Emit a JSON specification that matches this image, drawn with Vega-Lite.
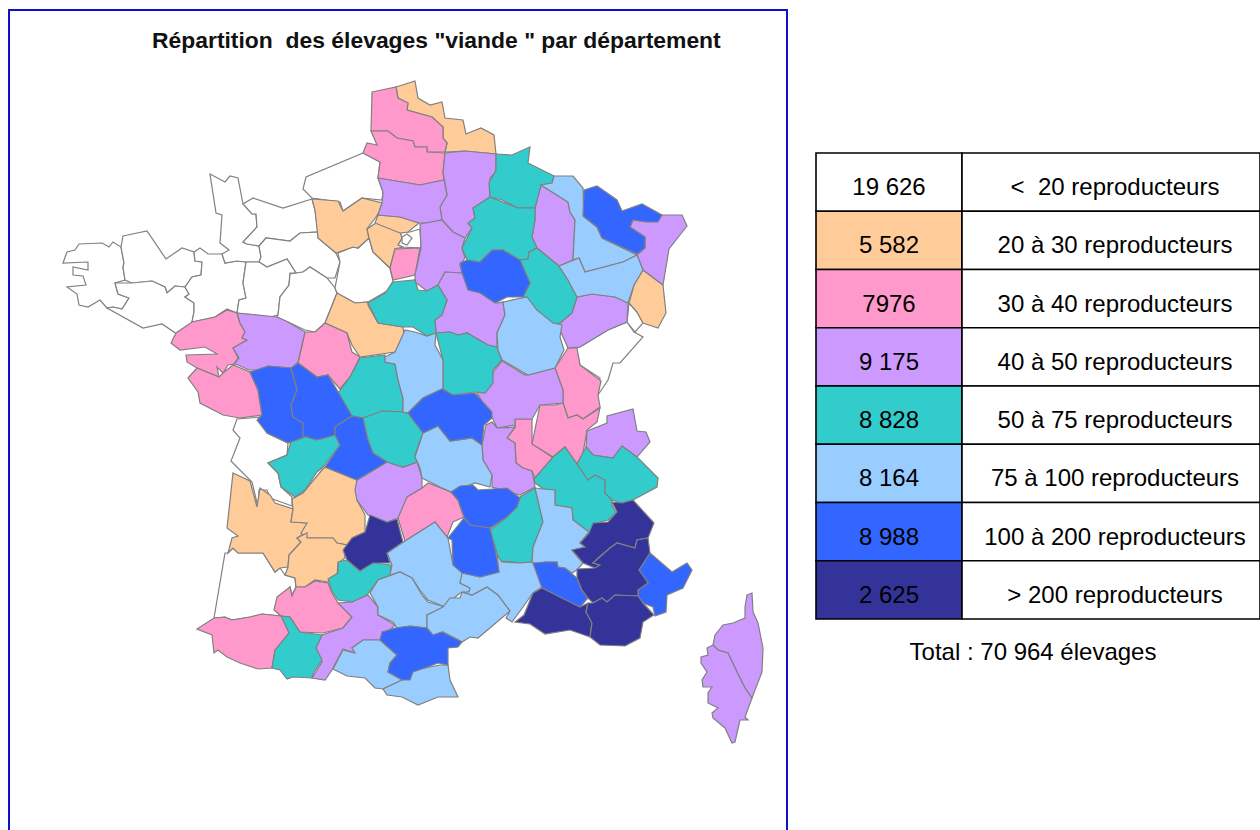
{"$schema":"https://vega.github.io/schema/vega-lite/v6.json",
"padding":{"left":8,"top":9,"right":0,"bottom":0},
"background":"white",
"bounds":"flush",
"config":{"font":"Liberation Sans"},
"spacing":29,
"hconcat":[
{"width":778,"height":830,
"title":{"text":"Répartition\u00a0 des élevages \"viande \" par département","orient":"top","anchor":"start","dx":143,"dy":47,"font":"Liberation Sans","fontSize":22.9,"fontWeight":"bold","color":"#111111"},
"view":{"stroke":"#1010c8","strokeWidth":2},
"projection":{"type":"identity","scale":1,"translate":[-9,-10]},
"data":{"values":[
{"dep":"Finistère","cat":"<20","type":"Feature","geometry":{"type":"Polygon","coordinates":[[[63,263],[67,252],[75,250],[79,244],[102,243],[109,247],[113,242],[121,247],[124,263],[123,267],[125,280],[115,283],[118,294],[129,298],[122,309],[113,307],[107,308],[100,300],[88,307],[79,305],[77,294],[67,287],[86,285],[83,276],[73,275],[73,267],[88,270],[88,262],[63,263]]]}},
{"dep":"Côtes-d'Armor","cat":"<20","type":"Feature","geometry":{"type":"Polygon","coordinates":[[[123,236],[147,231],[166,259],[182,248],[194,252],[195,261],[202,262],[201,275],[192,277],[185,287],[175,286],[167,293],[165,287],[152,281],[132,283],[125,280],[123,267],[124,263],[121,247],[123,236]]]}},
{"dep":"Morbihan","cat":"<20","type":"Feature","geometry":{"type":"Polygon","coordinates":[[[115,283],[132,283],[152,281],[165,287],[167,293],[175,286],[185,287],[189,294],[185,297],[194,303],[194,312],[192,322],[192,330],[177,334],[162,324],[143,328],[107,308],[113,307],[122,309],[129,298],[118,294],[115,283]]]}},
{"dep":"Ille-et-Vilaine","cat":"<20","type":"Feature","geometry":{"type":"Polygon","coordinates":[[[194,252],[200,248],[208,254],[222,254],[225,263],[237,261],[246,262],[243,283],[246,298],[239,300],[237,313],[227,309],[215,317],[192,322],[194,312],[194,303],[185,297],[189,294],[185,287],[192,277],[201,275],[202,262],[195,261],[194,252]]]}},
{"dep":"Manche","cat":"<20","type":"Feature","geometry":{"type":"Polygon","coordinates":[[[210,174],[225,182],[230,176],[238,178],[243,204],[252,214],[256,214],[257,227],[243,242],[247,244],[259,246],[261,257],[259,262],[246,262],[237,261],[225,263],[222,254],[229,250],[220,243],[222,215],[216,213],[210,174]]]}},
{"dep":"Calvados","cat":"<20","type":"Feature","geometry":{"type":"Polygon","coordinates":[[[243,204],[253,198],[283,208],[312,199],[315,210],[318,232],[300,233],[290,241],[266,238],[259,246],[247,244],[243,242],[257,227],[256,214],[252,214],[243,204]]]}},
{"dep":"Orne","cat":"<20","type":"Feature","geometry":{"type":"Polygon","coordinates":[[[259,246],[266,238],[290,241],[300,233],[318,232],[318,238],[336,253],[340,262],[335,278],[327,278],[310,267],[303,272],[296,273],[287,259],[267,267],[259,262],[261,257],[259,246]]]}},
{"dep":"Mayenne","cat":"<20","type":"Feature","geometry":{"type":"Polygon","coordinates":[[[246,262],[259,262],[267,267],[287,259],[296,273],[290,273],[289,285],[280,297],[278,315],[270,317],[237,313],[239,300],[246,298],[243,283],[246,262]]]}},
{"dep":"Sarthe","cat":"<20","type":"Feature","geometry":{"type":"Polygon","coordinates":[[[290,274],[303,272],[310,267],[327,278],[335,288],[337,293],[325,323],[315,332],[305,330],[288,322],[277,317],[278,315],[280,297],[289,285],[290,274]]]}},
{"dep":"Eure-et-Loir","cat":"<20","type":"Feature","geometry":{"type":"Polygon","coordinates":[[[338,253],[353,247],[358,248],[369,238],[373,252],[390,268],[393,281],[387,291],[368,302],[355,303],[337,293],[335,288],[340,262],[338,253]]]}},
{"dep":"Seine-Maritime","cat":"<20","type":"Feature","geometry":{"type":"Polygon","coordinates":[[[363,153],[306,177],[303,189],[312,198],[340,202],[343,211],[362,198],[382,200],[383,192],[378,178],[380,162],[363,153]]]}},
{"dep":"Paris et petite couronne","cat":"<20","type":"Feature","geometry":{"type":"Polygon","coordinates":[[[400,233],[410,232],[420,229],[421,248],[403,247],[398,245],[402,238],[400,233]]]}},
{"dep":"Hauts-de-Seine","cat":"<20","type":"Feature","geometry":{"type":"Polygon","coordinates":[[[402,237],[407,234],[412,238],[407,245],[402,243],[402,237]]]}},
{"dep":"Charente-Maritime","cat":"<20","type":"Feature","geometry":{"type":"Polygon","coordinates":[[[237,419],[262,417],[267,433],[288,443],[287,455],[268,463],[278,473],[281,487],[292,497],[292,506],[270,498],[267,490],[259,490],[258,507],[252,482],[231,461],[240,438],[233,430],[237,419]]]}},
{"dep":"Landes","cat":"<20","type":"Feature","geometry":{"type":"Polygon","coordinates":[[[225,553],[228,553],[233,548],[238,553],[263,553],[275,572],[280,568],[285,575],[295,578],[296,587],[292,595],[290,587],[277,602],[275,610],[281,616],[262,614],[250,617],[232,620],[225,617],[214,618],[225,553]]]}},
{"dep":"Doubs","cat":"<20","type":"Feature","geometry":{"type":"Polygon","coordinates":[[[568,348],[580,347],[608,330],[627,322],[634,332],[643,337],[620,363],[613,363],[608,380],[598,395],[600,378],[580,365],[578,355],[568,348]]]}},
{"dep":"Territoire de Belfort","cat":"<20","type":"Feature","geometry":{"type":"Polygon","coordinates":[[[629,303],[637,312],[643,323],[635,332],[627,322],[629,303]]]}},
{"dep":"Nord","cat":"20-30","type":"Feature","geometry":{"type":"Polygon","coordinates":[[[396,87],[415,81],[418,98],[430,105],[442,102],[445,118],[463,120],[466,134],[481,128],[494,135],[496,154],[465,151],[445,152],[447,143],[443,138],[443,127],[432,117],[407,110],[408,103],[398,98],[396,87]]]}},
{"dep":"Eure","cat":"20-30","type":"Feature","geometry":{"type":"Polygon","coordinates":[[[312,199],[338,201],[343,211],[362,198],[382,203],[379,212],[376,217],[367,229],[369,238],[358,248],[353,247],[336,253],[318,238],[315,210],[312,199]]]}},
{"dep":"Yvelines","cat":"20-30","type":"Feature","geometry":{"type":"Polygon","coordinates":[[[367,229],[376,223],[400,232],[402,238],[398,245],[403,247],[395,249],[390,268],[373,252],[369,238],[367,229]]]}},
{"dep":"Val-d'Oise","cat":"20-30","type":"Feature","geometry":{"type":"Polygon","coordinates":[[[375,223],[378,215],[400,217],[419,223],[408,232],[400,233],[375,223]]]}},
{"dep":"Loir-et-Cher","cat":"20-30","type":"Feature","geometry":{"type":"Polygon","coordinates":[[[337,293],[355,303],[368,302],[368,305],[378,323],[403,327],[405,342],[395,352],[360,357],[352,345],[347,333],[325,323],[337,293]]]}},
{"dep":"Haut-Rhin","cat":"20-30","type":"Feature","geometry":{"type":"Polygon","coordinates":[[[643,270],[663,285],[666,313],[658,328],[643,323],[637,312],[629,303],[634,285],[643,270]]]}},
{"dep":"Gironde","cat":"20-30","type":"Feature","geometry":{"type":"Polygon","coordinates":[[[233,473],[250,481],[257,507],[260,488],[270,495],[275,503],[293,509],[291,522],[307,523],[305,533],[297,538],[301,542],[289,555],[288,567],[280,568],[275,572],[263,553],[238,553],[233,548],[228,553],[232,538],[238,536],[227,528],[233,473]]]}},
{"dep":"Dordogne","cat":"20-30","type":"Feature","geometry":{"type":"Polygon","coordinates":[[[292,499],[303,493],[312,482],[322,470],[325,467],[357,480],[357,500],[365,515],[365,532],[352,538],[347,545],[337,543],[333,538],[307,538],[301,533],[307,523],[291,522],[293,509],[292,499]]]}},
{"dep":"Lot-et-Garonne","cat":"20-30","type":"Feature","geometry":{"type":"Polygon","coordinates":[[[307,533],[307,538],[333,538],[337,543],[347,545],[344,550],[345,558],[338,563],[337,577],[328,582],[315,580],[305,587],[296,587],[295,578],[285,575],[288,567],[289,555],[301,542],[297,538],[307,533]]]}},
{"dep":"Pas-de-Calais","cat":"30-40","type":"Feature","geometry":{"type":"Polygon","coordinates":[[[372,92],[396,87],[398,98],[408,103],[407,110],[432,117],[443,127],[443,138],[447,143],[445,152],[427,152],[427,147],[415,147],[413,141],[397,138],[388,131],[371,131],[372,92]]]}},
{"dep":"Somme","cat":"30-40","type":"Feature","geometry":{"type":"Polygon","coordinates":[[[363,153],[367,143],[377,145],[371,131],[388,131],[397,138],[413,141],[415,147],[427,147],[427,152],[445,153],[443,172],[444,180],[420,185],[378,178],[380,162],[363,153]]]}},
{"dep":"Essonne","cat":"30-40","type":"Feature","geometry":{"type":"Polygon","coordinates":[[[395,249],[420,248],[415,275],[393,280],[390,268],[395,249]]]}},
{"dep":"Loire-Atlantique","cat":"30-40","type":"Feature","geometry":{"type":"Polygon","coordinates":[[[171,343],[176,333],[192,322],[215,317],[227,310],[237,313],[240,323],[245,332],[242,338],[247,340],[233,348],[238,358],[234,364],[228,365],[223,373],[217,367],[219,377],[197,368],[187,362],[186,355],[217,354],[205,347],[180,350],[171,343]]]}},
{"dep":"Vendée","cat":"30-40","type":"Feature","geometry":{"type":"Polygon","coordinates":[[[188,378],[197,368],[219,377],[223,373],[233,365],[250,372],[258,390],[262,415],[240,418],[223,415],[200,403],[198,392],[188,378]]]}},
{"dep":"Indre-et-Loire","cat":"30-40","type":"Feature","geometry":{"type":"Polygon","coordinates":[[[305,332],[315,332],[325,323],[347,333],[352,352],[360,357],[350,377],[340,389],[328,375],[317,377],[298,363],[305,332]]]}},
{"dep":"Cantal","cat":"30-40","type":"Feature","geometry":{"type":"Polygon","coordinates":[[[398,518],[405,498],[422,488],[428,483],[451,492],[458,500],[464,517],[453,522],[447,537],[435,522],[405,541],[398,518]]]}},
{"dep":"Gers","cat":"30-40","type":"Feature","geometry":{"type":"Polygon","coordinates":[[[277,597],[290,587],[292,596],[296,587],[305,587],[315,581],[328,583],[332,593],[338,603],[352,617],[343,628],[323,633],[300,632],[290,617],[281,616],[274,610],[277,597]]]}},
{"dep":"Pyrénées-Atlantiques","cat":"30-40","type":"Feature","geometry":{"type":"Polygon","coordinates":[[[197,629],[214,618],[225,617],[232,620],[250,617],[262,614],[281,616],[290,633],[289,637],[275,650],[272,668],[258,669],[240,663],[227,657],[218,650],[214,653],[212,635],[197,629]]]}},
{"dep":"Jura","cat":"30-40","type":"Feature","geometry":{"type":"Polygon","coordinates":[[[568,348],[577,348],[580,365],[601,381],[598,395],[600,407],[583,419],[577,415],[568,418],[563,403],[563,390],[555,368],[568,348]]]}},
{"dep":"Ain","cat":"30-40","type":"Feature","geometry":{"type":"Polygon","coordinates":[[[540,405],[555,405],[563,403],[568,418],[577,415],[583,419],[597,410],[600,408],[597,422],[587,430],[583,453],[577,464],[565,447],[553,457],[532,444],[540,405]]]}},
{"dep":"Rhône","cat":"30-40","type":"Feature","geometry":{"type":"Polygon","coordinates":[[[515,419],[532,419],[532,444],[552,457],[553,465],[535,478],[532,471],[523,468],[516,463],[515,443],[507,438],[515,427],[515,419]]]}},
{"dep":"Aisne","cat":"40-50","type":"Feature","geometry":{"type":"Polygon","coordinates":[[[445,153],[465,151],[496,154],[496,172],[490,178],[490,197],[473,208],[475,218],[468,223],[472,228],[465,238],[453,232],[442,220],[440,207],[447,195],[443,172],[445,153]]]}},
{"dep":"Oise","cat":"40-50","type":"Feature","geometry":{"type":"Polygon","coordinates":[[[378,178],[420,185],[444,180],[447,195],[440,207],[442,220],[430,223],[419,223],[400,217],[378,215],[382,203],[383,192],[378,178]]]}},
{"dep":"Seine-et-Marne","cat":"40-50","type":"Feature","geometry":{"type":"Polygon","coordinates":[[[420,224],[442,220],[453,232],[465,238],[462,248],[465,258],[460,265],[462,273],[445,272],[438,285],[427,291],[415,282],[415,275],[421,248],[420,224]]]}},
{"dep":"Meuse","cat":"40-50","type":"Feature","geometry":{"type":"Polygon","coordinates":[[[541,185],[568,202],[570,212],[575,220],[573,260],[559,266],[537,248],[532,237],[535,220],[535,208],[541,185]]]}},
{"dep":"Bas-Rhin","cat":"40-50","type":"Feature","geometry":{"type":"Polygon","coordinates":[[[633,220],[647,222],[662,215],[682,215],[687,226],[669,249],[663,285],[643,270],[637,255],[645,248],[645,237],[630,227],[633,220]]]}},
{"dep":"Haute-Saône","cat":"40-50","type":"Feature","geometry":{"type":"Polygon","coordinates":[[[577,297],[592,294],[615,297],[628,303],[627,322],[608,330],[580,347],[568,348],[560,330],[560,323],[572,313],[577,297]]]}},
{"dep":"Yonne","cat":"40-50","type":"Feature","geometry":{"type":"Polygon","coordinates":[[[438,285],[445,272],[462,273],[472,288],[480,290],[497,303],[503,302],[505,315],[497,333],[497,347],[488,345],[467,333],[458,335],[450,332],[436,333],[435,320],[442,315],[447,300],[438,285]]]}},
{"dep":"Maine-et-Loire","cat":"40-50","type":"Feature","geometry":{"type":"Polygon","coordinates":[[[237,313],[277,317],[288,322],[305,332],[298,362],[292,368],[268,366],[258,370],[249,370],[238,365],[234,364],[239,358],[233,348],[247,340],[242,338],[245,332],[240,323],[237,313]]]}},
{"dep":"Saône-et-Loire","cat":"40-50","type":"Feature","geometry":{"type":"Polygon","coordinates":[[[477,393],[502,361],[525,375],[555,368],[563,390],[563,403],[540,405],[532,419],[515,419],[515,425],[497,428],[492,417],[477,393]]]}},
{"dep":"Loire","cat":"40-50","type":"Feature","geometry":{"type":"Polygon","coordinates":[[[492,422],[497,428],[515,427],[507,438],[515,443],[516,463],[523,468],[532,471],[535,487],[520,495],[492,487],[492,475],[483,460],[482,445],[486,425],[492,422]]]}},
{"dep":"Corrèze","cat":"40-50","type":"Feature","geometry":{"type":"Polygon","coordinates":[[[357,480],[387,462],[403,467],[417,462],[422,478],[422,488],[407,497],[398,518],[387,522],[368,515],[357,500],[355,490],[357,480]]]}},
{"dep":"Haute-Savoie","cat":"40-50","type":"Feature","geometry":{"type":"Polygon","coordinates":[[[587,431],[607,423],[607,416],[633,409],[637,431],[646,432],[650,442],[637,457],[622,446],[613,458],[593,455],[586,447],[587,431]]]}},
{"dep":"Haute-Garonne","cat":"40-50","type":"Feature","geometry":{"type":"Polygon","coordinates":[[[322,635],[343,628],[352,617],[338,603],[352,602],[368,595],[378,607],[378,615],[395,625],[380,640],[363,640],[352,648],[355,653],[343,649],[332,670],[325,680],[312,678],[322,662],[316,648],[322,635]]]}},
{"dep":"Haute-Corse","cat":"40-50","type":"Feature","geometry":{"type":"Polygon","coordinates":[[[747,595],[752,593],[753,612],[758,623],[763,648],[762,672],[752,698],[745,688],[737,672],[728,653],[718,650],[713,645],[715,635],[723,625],[733,623],[740,620],[745,618],[745,607],[747,595]]]}},
{"dep":"Corse-du-Sud","cat":"40-50","type":"Feature","geometry":{"type":"Polygon","coordinates":[[[707,648],[713,645],[718,650],[728,653],[737,672],[745,688],[752,698],[745,717],[748,720],[740,720],[735,742],[732,743],[725,728],[713,718],[712,713],[718,708],[708,703],[708,693],[712,687],[703,687],[702,680],[707,672],[701,663],[701,657],[708,655],[707,648]]]}},
{"dep":"Ardennes","cat":"50-75","type":"Feature","geometry":{"type":"Polygon","coordinates":[[[496,154],[512,155],[530,147],[528,163],[554,176],[552,183],[541,185],[535,208],[518,208],[502,200],[490,197],[489,183],[496,170],[496,154]]]}},
{"dep":"Marne","cat":"50-75","type":"Feature","geometry":{"type":"Polygon","coordinates":[[[490,197],[518,208],[535,208],[535,220],[532,237],[537,248],[529,252],[528,259],[520,260],[503,250],[492,250],[480,262],[467,260],[462,248],[472,228],[468,223],[475,218],[473,208],[490,197]]]}},
{"dep":"Haute-Marne","cat":"50-75","type":"Feature","geometry":{"type":"Polygon","coordinates":[[[529,252],[537,248],[559,266],[568,280],[577,297],[572,313],[560,323],[553,325],[540,317],[535,308],[523,297],[530,283],[520,260],[528,259],[529,252]]]}},
{"dep":"Loiret","cat":"50-75","type":"Feature","geometry":{"type":"Polygon","coordinates":[[[368,303],[385,293],[393,282],[415,280],[418,290],[427,291],[438,285],[447,300],[442,315],[435,320],[436,333],[427,336],[413,327],[403,327],[378,323],[368,303]]]}},
{"dep":"Nièvre","cat":"50-75","type":"Feature","geometry":{"type":"Polygon","coordinates":[[[436,333],[450,332],[458,335],[467,333],[488,345],[497,347],[502,360],[493,370],[493,383],[485,393],[475,392],[453,395],[443,389],[443,360],[436,333]]]}},
{"dep":"Indre","cat":"50-75","type":"Feature","geometry":{"type":"Polygon","coordinates":[[[360,358],[385,355],[385,362],[395,364],[398,380],[403,398],[403,412],[382,411],[363,418],[352,416],[338,393],[350,377],[360,358]]]}},
{"dep":"Creuse","cat":"50-75","type":"Feature","geometry":{"type":"Polygon","coordinates":[[[363,418],[382,411],[403,412],[408,413],[423,433],[415,455],[417,462],[403,467],[387,462],[373,453],[368,440],[363,418]]]}},
{"dep":"Charente","cat":"50-75","type":"Feature","geometry":{"type":"Polygon","coordinates":[[[292,438],[303,436],[317,440],[335,435],[340,445],[323,467],[317,472],[305,490],[295,497],[281,487],[278,473],[268,463],[287,455],[292,438]]]}},
{"dep":"Tarn-et-Garonne","cat":"50-75","type":"Feature","geometry":{"type":"Polygon","coordinates":[[[338,562],[347,560],[360,571],[373,563],[391,565],[391,575],[378,580],[367,595],[352,602],[338,600],[332,591],[328,579],[338,573],[338,562]]]}},
{"dep":"Hautes-Pyrénées","cat":"50-75","type":"Feature","geometry":{"type":"Polygon","coordinates":[[[281,616],[290,617],[300,632],[322,635],[316,648],[322,660],[314,672],[312,678],[293,677],[287,679],[280,670],[272,668],[275,650],[289,633],[281,616]]]}},
{"dep":"Ardèche","cat":"50-75","type":"Feature","geometry":{"type":"Polygon","coordinates":[[[535,488],[543,522],[533,547],[532,562],[522,563],[500,561],[497,553],[490,530],[507,517],[517,507],[520,497],[535,488]]]}},
{"dep":"Isère","cat":"50-75","type":"Feature","geometry":{"type":"Polygon","coordinates":[[[565,447],[577,464],[588,480],[595,475],[605,480],[605,493],[612,500],[612,505],[616,513],[608,520],[597,523],[589,532],[573,520],[572,508],[555,505],[555,490],[543,489],[535,483],[534,479],[553,457],[565,447]]]}},
{"dep":"Savoie","cat":"50-75","type":"Feature","geometry":{"type":"Polygon","coordinates":[[[586,447],[593,455],[613,458],[622,446],[637,457],[658,478],[657,487],[633,500],[622,503],[612,500],[605,493],[605,480],[595,475],[588,480],[577,464],[586,447]]]}},
{"dep":"Meurthe-et-Moselle","cat":"75-100","type":"Feature","geometry":{"type":"Polygon","coordinates":[[[554,176],[573,176],[583,188],[584,217],[597,227],[602,238],[637,255],[623,262],[585,272],[579,258],[573,260],[575,220],[570,212],[568,202],[541,185],[552,183],[554,176]]]}},
{"dep":"Vosges","cat":"75-100","type":"Feature","geometry":{"type":"Polygon","coordinates":[[[559,266],[579,258],[585,272],[623,262],[637,255],[643,270],[634,285],[628,303],[615,297],[592,294],[577,297],[568,280],[559,266]]]}},
{"dep":"Côte-d'Or","cat":"75-100","type":"Feature","geometry":{"type":"Polygon","coordinates":[[[503,302],[527,297],[537,310],[553,323],[562,325],[560,337],[564,350],[555,368],[528,375],[502,360],[498,350],[497,333],[505,315],[503,302]]]}},
{"dep":"Cher","cat":"75-100","type":"Feature","geometry":{"type":"Polygon","coordinates":[[[385,357],[395,352],[405,330],[415,332],[427,336],[436,333],[435,345],[443,360],[443,389],[423,398],[408,413],[403,412],[403,398],[398,380],[395,364],[385,362],[385,357]]]}},
{"dep":"Puy-de-Dôme","cat":"75-100","type":"Feature","geometry":{"type":"Polygon","coordinates":[[[415,457],[423,433],[438,426],[450,441],[472,438],[482,445],[483,460],[492,475],[490,487],[475,483],[451,492],[440,487],[422,478],[420,468],[415,457]]]}},
{"dep":"Aveyron","cat":"75-100","type":"Feature","geometry":{"type":"Polygon","coordinates":[[[387,553],[405,541],[435,522],[448,538],[453,565],[464,573],[460,583],[470,588],[469,592],[460,593],[452,600],[445,607],[428,600],[420,590],[412,578],[400,572],[390,575],[392,565],[387,553]]]}},
{"dep":"Tarn","cat":"75-100","type":"Feature","geometry":{"type":"Polygon","coordinates":[[[370,593],[378,580],[400,572],[412,578],[422,595],[428,602],[445,607],[427,615],[427,628],[410,626],[397,628],[393,622],[378,615],[378,607],[370,593]]]}},
{"dep":"Hérault","cat":"75-100","type":"Feature","geometry":{"type":"Polygon","coordinates":[[[427,615],[443,607],[450,598],[460,598],[462,592],[472,595],[487,587],[498,595],[510,611],[478,638],[470,637],[462,642],[443,632],[433,636],[427,628],[427,615]]]}},
{"dep":"Gard","cat":"75-100","type":"Feature","geometry":{"type":"Polygon","coordinates":[[[462,573],[480,577],[499,572],[497,555],[502,562],[520,563],[533,562],[542,587],[533,593],[523,607],[512,622],[506,618],[510,611],[498,595],[487,587],[472,595],[462,592],[469,592],[470,588],[460,583],[462,573]]]}},
{"dep":"Drôme","cat":"75-100","type":"Feature","geometry":{"type":"Polygon","coordinates":[[[535,488],[543,489],[555,490],[555,505],[572,508],[573,520],[589,532],[580,543],[585,547],[572,550],[583,563],[577,570],[572,573],[565,568],[558,567],[557,562],[545,562],[539,567],[532,562],[533,547],[543,522],[535,488]]]}},
{"dep":"Ariège","cat":"75-100","type":"Feature","geometry":{"type":"Polygon","coordinates":[[[333,669],[343,650],[355,653],[352,648],[363,640],[380,640],[397,655],[390,663],[388,672],[402,680],[383,689],[375,688],[365,678],[347,676],[333,669]]]}},
{"dep":"Pyrénées-Orientales","cat":"75-100","type":"Feature","geometry":{"type":"Polygon","coordinates":[[[383,689],[402,680],[413,670],[425,668],[440,665],[448,665],[450,680],[458,697],[438,697],[418,705],[402,697],[387,695],[383,689]]]}},
{"dep":"Moselle","cat":"100-200","type":"Feature","geometry":{"type":"Polygon","coordinates":[[[584,190],[597,186],[617,200],[622,211],[642,204],[662,215],[658,222],[647,222],[633,220],[630,227],[645,237],[645,248],[637,254],[602,238],[597,227],[583,216],[584,190]]]}},
{"dep":"Aube","cat":"100-200","type":"Feature","geometry":{"type":"Polygon","coordinates":[[[460,263],[467,260],[480,262],[492,250],[503,250],[520,260],[530,283],[523,297],[507,297],[495,303],[480,293],[468,290],[462,273],[460,263]]]}},
{"dep":"Deux-Sèvres","cat":"100-200","type":"Feature","geometry":{"type":"Polygon","coordinates":[[[250,372],[268,366],[291,368],[297,390],[291,405],[293,417],[303,423],[305,437],[288,443],[267,433],[257,420],[262,415],[258,390],[250,372]]]}},
{"dep":"Vienne","cat":"100-200","type":"Feature","geometry":{"type":"Polygon","coordinates":[[[291,368],[298,363],[317,377],[328,375],[340,395],[352,416],[335,427],[335,435],[317,440],[303,436],[303,423],[293,417],[291,405],[297,390],[291,368]]]}},
{"dep":"Haute-Vienne","cat":"100-200","type":"Feature","geometry":{"type":"Polygon","coordinates":[[[335,427],[352,416],[363,418],[368,440],[373,453],[387,462],[357,480],[325,467],[340,445],[335,435],[335,427]]]}},
{"dep":"Allier","cat":"100-200","type":"Feature","geometry":{"type":"Polygon","coordinates":[[[408,413],[423,398],[442,389],[453,395],[475,393],[492,412],[492,418],[484,425],[482,445],[472,438],[450,441],[438,426],[423,433],[408,413]]]}},
{"dep":"Haute-Loire","cat":"100-200","type":"Feature","geometry":{"type":"Polygon","coordinates":[[[451,492],[460,486],[473,485],[478,490],[507,488],[520,498],[517,507],[507,517],[490,528],[470,525],[464,517],[458,500],[451,492]]]}},
{"dep":"Lozère","cat":"100-200","type":"Feature","geometry":{"type":"Polygon","coordinates":[[[464,518],[470,525],[490,528],[496,553],[499,572],[480,577],[462,573],[453,565],[452,540],[448,538],[464,518]]]}},
{"dep":"Aude","cat":"100-200","type":"Feature","geometry":{"type":"Polygon","coordinates":[[[380,640],[382,632],[395,628],[410,626],[427,628],[433,635],[442,632],[462,642],[458,647],[448,648],[448,665],[438,663],[425,668],[413,672],[410,680],[402,680],[388,672],[390,663],[397,655],[380,640]]]}},
{"dep":"Vaucluse","cat":"100-200","type":"Feature","geometry":{"type":"Polygon","coordinates":[[[533,563],[545,562],[557,562],[558,567],[565,568],[577,578],[582,590],[588,598],[580,607],[567,602],[542,588],[533,563]]]}},
{"dep":"Alpes-Maritimes","cat":"100-200","type":"Feature","geometry":{"type":"Polygon","coordinates":[[[650,553],[672,572],[687,563],[692,570],[683,588],[667,595],[666,612],[655,616],[653,607],[643,603],[638,596],[638,590],[648,583],[639,570],[650,553]]]}},
{"dep":"Lot","cat":">200","type":"Feature","geometry":{"type":"Polygon","coordinates":[[[343,550],[352,538],[365,532],[370,515],[387,522],[397,519],[403,542],[387,553],[390,563],[373,563],[360,571],[347,560],[343,550]]]}},
{"dep":"Hautes-Alpes","cat":">200","type":"Feature","geometry":{"type":"Polygon","coordinates":[[[612,502],[622,503],[633,500],[654,523],[648,538],[637,540],[635,548],[617,543],[610,548],[598,558],[593,563],[600,565],[595,568],[583,563],[572,550],[585,547],[580,543],[589,533],[593,523],[608,522],[617,512],[612,502]]]}},
{"dep":"Alpes-de-Haute-Provence","cat":">200","type":"Feature","geometry":{"type":"Polygon","coordinates":[[[648,538],[650,553],[639,570],[648,583],[638,590],[638,596],[615,595],[607,602],[602,598],[593,603],[588,598],[582,590],[577,578],[577,569],[595,568],[600,565],[593,563],[610,548],[617,543],[635,548],[637,540],[648,538]]]}},
{"dep":"Bouches-du-Rhône","cat":">200","type":"Feature","geometry":{"type":"Polygon","coordinates":[[[542,588],[580,607],[588,603],[586,612],[592,623],[590,637],[570,630],[545,634],[530,624],[515,622],[524,615],[533,593],[542,588]]]}},
{"dep":"Var","cat":">200","type":"Feature","geometry":{"type":"Polygon","coordinates":[[[588,603],[593,603],[602,598],[607,602],[615,595],[638,596],[643,603],[654,615],[643,622],[640,638],[625,646],[600,645],[590,637],[592,623],[586,612],[588,603]]]}}
]},
"mark":{"type":"geoshape","stroke":"#808080","strokeWidth":1.2,"clip":false},
"encoding":{"color":{"field":"cat","type":"nominal","legend":null,"scale":{"domain":["<20","20-30","30-40","40-50","50-75","75-100","100-200",">200"],"range":["#FFFFFF","#FFCC99","#FF99CC","#CC99FF","#33CCCC","#99CCFF","#3366FF","#333399"]}}}
},
{"spacing":0,"bounds":"flush",
"hconcat":[
{"width":146,"height":820,"view":{"stroke":null},
"data":{"name":"table","values":[
{"cat":"<20","elevages":"19 626","classe":"<\u00a0 20 reproducteurs"},
{"cat":"20-30","elevages":"5 582","classe":"20 à 30 reproducteurs"},
{"cat":"30-40","elevages":"7976","classe":"30 à 40 reproducteurs"},
{"cat":"40-50","elevages":"9 175","classe":"40 à 50 reproducteurs"},
{"cat":"50-75","elevages":"8 828","classe":"50 à 75 reproducteurs"},
{"cat":"75-100","elevages":"8 164","classe":"75 à 100 reproducteurs"},
{"cat":"100-200","elevages":"8 988","classe":"100 à 200 reproducteurs"},
{"cat":">200","elevages":"2 625","classe":"> 200 reproducteurs"}
]},
"encoding":{"y":{"field":"cat","type":"nominal","axis":null,"sort":null,"scale":{"domain":["<20","20-30","30-40","40-50","50-75","75-100","100-200",">200","total"],"range":[143,667.25],"paddingInner":0,"paddingOuter":0}}},
"layer":[
{"mark":{"type":"rect","stroke":"black","strokeWidth":1.6},
"encoding":{"color":{"field":"cat","type":"nominal","legend":null}}},
{"mark":{"type":"text","fontSize":24,"font":"Liberation Sans","color":"#000000","dy":6},
"encoding":{"text":{"field":"elevages"}}}
]},
{"width":298,"height":820,"view":{"stroke":null},
"layer":[
{"data":{"name":"table"},
"mark":{"type":"rect","stroke":"black","strokeWidth":1.6,"fill":"white"},
"encoding":{"y":{"field":"cat","type":"nominal","axis":null,"sort":null,"scale":{"domain":["<20","20-30","30-40","40-50","50-75","75-100","100-200",">200","total"],"range":[143,667.25],"paddingInner":0,"paddingOuter":0}}}},
{"data":{"name":"table"},
"mark":{"type":"text","fontSize":24,"font":"Liberation Sans","color":"#000000","dx":4,"dy":6},
"encoding":{"y":{"field":"cat","type":"nominal","axis":null,"sort":null},"text":{"field":"classe"}}},
{"data":{"values":[{"cat":"total","classe":"Total : 70 964 élevages"}]},
"mark":{"type":"text","fontSize":24,"font":"Liberation Sans","color":"#000000","dx":-78,"dy":5},
"encoding":{"y":{"field":"cat","type":"nominal","axis":null,"sort":null},"text":{"field":"classe"}}}
]}
]}
]}
